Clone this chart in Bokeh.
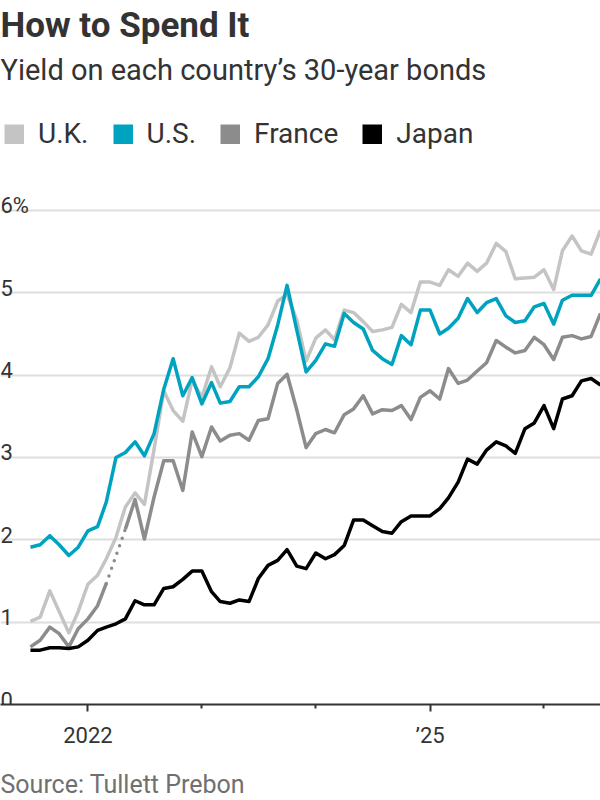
import numpy as np
import pandas as pd
from bokeh.plotting import figure
from bokeh.models import ColumnDataSource, FixedTicker, Legend, LegendItem, Title, Range1d
from bokeh.core.properties import value
from bokeh.embed import file_html
from bokeh.resources import INLINE

# Monthly observations, July 2021 onward
months = pd.date_range("2021-07-01", periods=61, freq="MS")

uk = [1.01, 1.06, 1.38, 1.13, 0.87, 1.13, 1.46, 1.57, 1.77, 2.03,
      2.40, 2.57, 2.43, 3.10, 3.81, 3.57, 3.44, 3.94, 3.73, 4.10,
      3.86, 4.09, 4.51, 4.41, 4.46, 4.61, 4.90, 4.98, 4.67, 4.17,
      4.45, 4.55, 4.43, 4.79, 4.76, 4.65, 4.53, 4.55, 4.58, 4.86,
      4.76, 5.13, 5.13, 5.09, 5.28, 5.20, 5.36, 5.26, 5.36, 5.60,
      5.50, 5.17, 5.18, 5.19, 5.28, 5.04, 5.51, 5.69, 5.51, 5.47,
      5.76]

us = [1.91, 1.94, 2.05, 1.94, 1.81, 1.91, 2.11, 2.16, 2.46, 3.00,
      3.06, 3.19, 3.02, 3.29, 3.83, 4.20, 3.75, 3.97, 3.65, 3.91,
      3.66, 3.68, 3.86, 3.86, 3.98, 4.20, 4.61, 5.09, 4.55, 4.04,
      4.18, 4.38, 4.35, 4.75, 4.64, 4.56, 4.30, 4.20, 4.13, 4.48,
      4.37, 4.79, 4.79, 4.50, 4.57, 4.69, 4.93, 4.76, 4.88, 4.93,
      4.72, 4.64, 4.66, 4.83, 4.87, 4.62, 4.91, 4.97, 4.97, 4.97,
      5.17]

# April 2022 is missing for France
france = [0.70, 0.78, 0.94, 0.86, 0.70, 0.92, 1.04, 1.20, 1.47, None,
          2.13, 2.49, 2.01, 2.52, 2.96, 2.96, 2.60, 3.31, 3.01, 3.37,
          3.20, 3.27, 3.29, 3.21, 3.45, 3.47, 3.90, 4.01, 3.58, 3.12,
          3.29, 3.34, 3.30, 3.52, 3.59, 3.75, 3.53, 3.58, 3.57, 3.63,
          3.46, 3.73, 3.81, 3.71, 4.08, 3.90, 3.94, 4.05, 4.15, 4.42,
          4.34, 4.27, 4.30, 4.46, 4.37, 4.19, 4.46, 4.48, 4.44, 4.47,
          4.75]

japan = [0.66, 0.66, 0.69, 0.69, 0.68, 0.70, 0.78, 0.90, 0.94, 0.98,
         1.04, 1.26, 1.21, 1.21, 1.41, 1.43, 1.52, 1.62, 1.62, 1.37,
         1.25, 1.23, 1.27, 1.25, 1.53, 1.69, 1.75, 1.88, 1.68, 1.65,
         1.84, 1.77, 1.82, 1.93, 2.24, 2.24, 2.17, 2.10, 2.08, 2.22,
         2.29, 2.29, 2.29, 2.38, 2.51, 2.70, 2.98, 2.92, 3.09, 3.19,
         3.14, 3.05, 3.35, 3.42, 3.63, 3.35, 3.71, 3.75, 3.93, 3.96,
         3.88]

series_names = ["U.K.", "U.S.", "France", "Japan"]
series_colors = ["#c4c4c4", "#00a3bf", "#8c8c8c", "#000000"]

y_ticks = [0, 1, 2, 3, 4, 5, 6]
y_labels = ["0", "1", "2", "3", "4", "5", "6%"]
x_tick_years = [2022, 2025]
x_tick_labels = ["2022", "\u201925"]
x_minor_years = [2023, 2024, 2026]

FONT = "Roboto"
INK = "#333333"


def nan_gaps(vals):
    return [np.nan if v is None else v for v in vals]


x_start = months[0] - pd.Timedelta(days=96)
x_end = months[-1]

# Frame runs from y=91 to y=704 on the canvas
p = figure(width=600, height=800, x_axis_type="datetime",
           output_backend="svg", toolbar_location=None,
           x_range=Range1d(x_start, x_end), y_range=Range1d(0, 7.445),
           min_border_left=0, min_border_right=0,
           min_border_top=91, min_border_bottom=96,
           background_fill_color="white", border_fill_color="white")
p.outline_line_color = None

# Gridlines at each whole percent
p.xgrid.visible = False
p.ygrid.ticker = FixedTicker(ticks=y_ticks[1:])
p.ygrid.grid_line_color = "#dedede"
p.ygrid.grid_line_width = 2

p.yaxis.visible = False


def ms(year):
    return pd.Timestamp(f"{year}-01-01").value / 1e6


xa = p.xaxis[0]
xa.ticker = FixedTicker(ticks=[ms(y) for y in x_tick_years],
                        minor_ticks=[ms(y) for y in x_minor_years])
xa.major_label_overrides = {ms(y): lab for y, lab in zip(x_tick_years, x_tick_labels)}
xa.axis_line_color = INK
xa.axis_line_width = 2
xa.major_tick_line_color = INK
xa.major_tick_line_width = 2
xa.major_tick_in = 0
xa.major_tick_out = 7
xa.minor_tick_line_color = INK
xa.minor_tick_line_width = 2
xa.minor_tick_in = 0
xa.minor_tick_out = 4
xa.major_label_standoff = 11
xa.major_label_text_font = FONT
xa.major_label_text_font_size = "22px"
xa.major_label_text_color = INK

# Value labels sitting on the gridlines at the left edge
p.text(x=[x_start] * len(y_ticks), y=y_ticks, text=y_labels,
       text_font=value(FONT), text_font_size="22px", text_color=INK,
       text_align="left", text_baseline="alphabetic", x_offset=0, y_offset=-5)

# Series lines
src = ColumnDataSource(dict(date=months, uk=uk, us=us,
                            france=nan_gaps(france), japan=japan))
cols = ["uk", "us", "france", "japan"]
for col, color in zip(cols, series_colors):
    p.line("date", col, source=src, line_color=color, line_width=3.5, line_join="round")

# Dotted bridge across the missing French observation
gap = [i for i, v in enumerate(france) if v is None]
bx, by = [], []
for i in gap:
    bx += [months[i - 1], months[i + 1]]
    by += [france[i - 1], france[i + 1]]
p.line(bx, by, line_color=series_colors[2], line_width=3.5,
       line_dash="0 8", line_cap="round")

# Legend with square swatches (placeholder renderers draw nothing in the plot)
items = []
for name, color in zip(series_names, series_colors):
    swatch = p.line(x=[np.nan], y=[np.nan], line_color=color, line_width=20, line_cap="butt")
    items.append(LegendItem(label=name, renderers=[swatch]))
legend = Legend(items=items, orientation="horizontal", location=(4, 554),
                glyph_width=20, glyph_height=20, label_standoff=14, spacing=24,
                padding=0, margin=0, border_line_color=None,
                background_fill_alpha=0, label_text_font=FONT,
                label_text_font_size="28px", label_text_color=INK,
                label_height=20)
p.add_layout(legend, "center")

p.add_layout(Title(text="Yield on each country\u2019s 30-year bonds", align="left",
                   text_font=FONT, text_font_size="29px", text_font_style="normal",
                   text_color=INK, standoff=10), "above")
p.add_layout(Title(text="How to Spend It", align="left",
                   text_font=FONT, text_font_size="35px", text_font_style="bold",
                   text_color=INK, standoff=0), "above")
p.add_layout(Title(text="Source: Tullett Prebon", align="left",
                   text_font=FONT, text_font_size="25px", text_font_style="normal",
                   text_color="#707070", standoff=0, padding=(0, 0, 17, 0)), "below")

open("out.html", "w").write(file_html(p, INLINE))
